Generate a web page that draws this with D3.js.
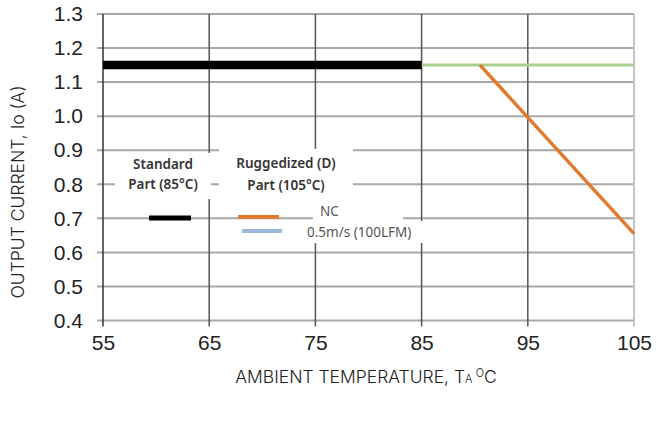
<!DOCTYPE html>
<html>
<head>
<meta charset="utf-8">
<script src="https://cdn.jsdelivr.net/npm/d3@7"></script>
<style>
  body { margin: 0; background: #fff; }
  svg { display: block; }
</style>
</head>
<body>
<div id="chart"></div>
<script>
// Data
const xTicks = [55, 65, 75, 85, 95, 105];
const yTicks = [0.4, 0.5, 0.6, 0.7, 0.8, 0.9, 1.0, 1.1, 1.2, 1.3];
const standardPart = [[55, 1.15], [85, 1.15]];
const airflow05 = [[85, 1.15], [105, 1.15]];
const naturalConv = [[90.5, 1.15], [105, 0.655]];

// Chart dimensions
const W = 656, H = 421;
const margin = {top: 14, right: 22, bottom: 100.5, left: 103};
const width = W - margin.left - margin.right;
const height = H - margin.top - margin.bottom;

const svg = d3.select("#chart")
    .append("svg")
    .attr("width", W)
    .attr("height", H);

const g = svg.append("g")
    .attr("transform", "translate(" + margin.left + "," + margin.top + ")");

const x = d3.scaleLinear().domain([55, 105]).range([0, width]);
const y = d3.scaleLinear().domain([0.4, 1.3]).range([height, 0]);

// Horizontal grid (grey), running a little past the axis as tick marks
g.selectAll(".hgrid")
    .data(yTicks)
    .enter().append("line")
    .attr("x1", -6)
    .attr("x2", width)
    .attr("y1", d => y(d))
    .attr("y2", d => y(d))
    .style("stroke", "#a8a8a8")
    .style("stroke-width", 2);

// Vertical grid (dark), last one light as a border
g.selectAll(".vgrid")
    .data(xTicks)
    .enter().append("line")
    .attr("x1", d => x(d))
    .attr("x2", d => x(d))
    .attr("y1", 0)
    .attr("y2", height + 6)
    .style("stroke", (d, i) => i === xTicks.length - 1 ? "#c4c4c4" : (i === 0 ? "#333" : "#555"))
    .style("stroke-width", (d, i) => i === xTicks.length - 1 ? 2 : 1.5);

// Axis tick labels
const yAxis = d3.axisLeft(y).tickValues(yTicks).tickFormat(d3.format(".1f")).tickSize(0).tickPadding(20);
const xAxis = d3.axisBottom(x).tickValues(xTicks).tickFormat(d3.format("d")).tickSize(0).tickPadding(15);

g.append("g")
    .call(yAxis)
    .call(a => a.select(".domain").remove())
    .selectAll("text")
    .style("font-family", "'Liberation Sans', Arial, sans-serif")
    .style("font-size", "21px")
    .style("fill", "#222");

g.append("g")
    .attr("transform", "translate(0," + height + ")")
    .call(xAxis)
    .call(a => a.select(".domain").remove())
    .selectAll("text")
    .style("font-family", "'Liberation Sans', Arial, sans-serif")
    .style("font-size", "21px")
    .style("fill", "#222");

// White boxes behind the legend text
const boxes = [
    {x0: 115, x1: 211, y0: 153, y1: 199},
    {x0: 219, x1: 353, y0: 149, y1: 201},
    {x0: 313, x1: 403, y0: 200, y1: 221},
    {x0: 303, x1: 424, y0: 221, y1: 243}
];
svg.selectAll(".box")
    .data(boxes)
    .enter().append("rect")
    .attr("x", d => d.x0)
    .attr("y", d => d.y0)
    .attr("width", d => d.x1 - d.x0)
    .attr("height", d => d.y1 - d.y0)
    .style("fill", "#fff");

// Data lines
const line = d3.line().x(d => x(d[0])).y(d => y(d[1]));

g.append("path")
    .datum(airflow05)
    .attr("d", line)
    .style("fill", "none")
    .style("stroke", "#a9d08e")
    .style("stroke-width", 3);

g.append("path")
    .datum(standardPart)
    .attr("d", line)
    .style("fill", "none")
    .style("stroke", "#000")
    .style("stroke-width", 8.5);

g.append("path")
    .datum(naturalConv)
    .attr("d", line)
    .style("fill", "none")
    .style("stroke", "#e07a2c")
    .style("stroke-width", 3.5);

// Legend
const legendText = (tx, ty, str, opts) => svg.append("text")
    .attr("x", tx)
    .attr("y", ty)
    .attr("text-anchor", opts.anchor || "middle")
    .style("font-family", "'Noto Sans', sans-serif")
    .style("font-size", opts.size || "13.5px")
    .style("font-weight", opts.weight || "normal")
    .style("fill", opts.fill || "#333")
    .text(str);

legendText(163, 169, "Standard", {weight: 600});
legendText(163, 189, "Part (85°C)", {weight: 600});
legendText(286, 168, "Ruggedized (D)", {weight: 600});
legendText(286, 190, "Part (105°C)", {weight: 600});
legendText(320, 216, "NC", {anchor: "start", fill: "#555"});
legendText(307, 237, "0.5m/s (100LFM)", {anchor: "start", fill: "#555"});

svg.append("line").attr("x1", 149).attr("x2", 191).attr("y1", 218).attr("y2", 218)
    .style("stroke", "#000").style("stroke-width", 5);
svg.append("line").attr("x1", 238).attr("x2", 279).attr("y1", 217).attr("y2", 217)
    .style("stroke", "#e07a2c").style("stroke-width", 4);
svg.append("line").attr("x1", 242).attr("x2", 282).attr("y1", 231).attr("y2", 231)
    .style("stroke", "#9bb8dc").style("stroke-width", 4);

// Axis titles
svg.append("text")
    .attr("transform", "translate(23.5,192) rotate(-90)")
    .attr("text-anchor", "middle")
    .style("font-family", "Inter, 'Noto Sans', sans-serif")
    .style("font-size", "17.5px")
    .style("font-weight", 300)
    .style("fill", "#222")
    .text("OUTPUT CURRENT, Io (A)");

const xt = svg.append("text")
    .attr("x", 366)
    .attr("y", 383)
    .attr("text-anchor", "middle")
    .style("font-family", "Inter, 'Noto Sans', sans-serif")
    .style("font-size", "17.5px")
    .style("font-weight", 300)
    .style("fill", "#222");
xt.append("tspan").text("AMBIENT TEMPERATURE, T");
xt.append("tspan").style("font-size", "11px").text("A ");
xt.append("tspan").style("font-size", "11px").attr("dy", -6).text("O");
xt.append("tspan").attr("dy", 6).text("C");
</script>
</body>
</html>
